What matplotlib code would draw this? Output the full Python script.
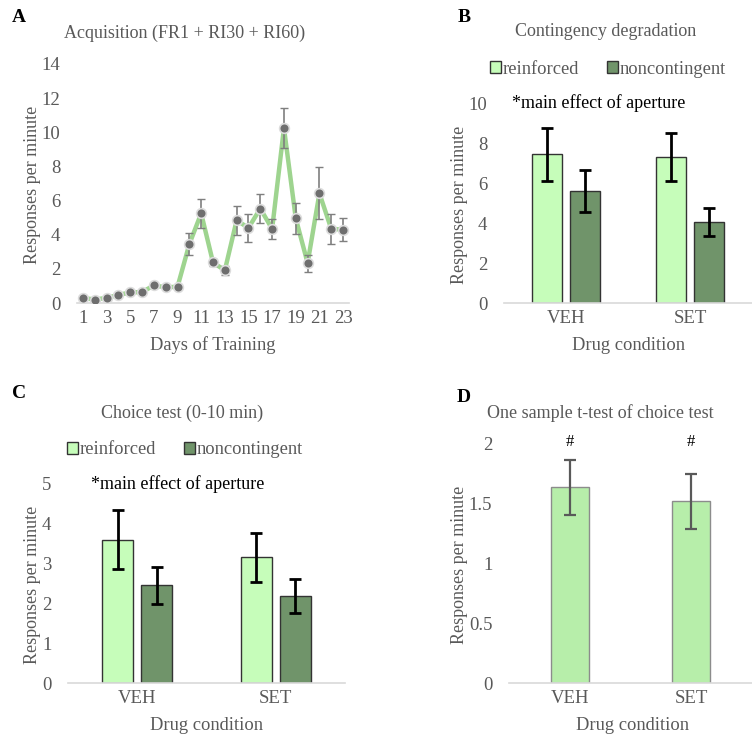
"""Four-panel figure: acquisition, contingency degradation, choice test, t-test."""

import matplotlib
matplotlib.use("Agg")
import matplotlib.pyplot as plt
import numpy as np

W, H = 752, 737
GRAY = "#595959"
plt.rcParams["font.family"] = ["Liberation Serif", "DejaVu Serif"]

# Panel A: acquisition
days = list(range(1, 24))
acq_mean = [0.3, 0.2, 0.3, 0.47, 0.62, 0.64, 1.03, 0.92, 0.95, 3.45, 5.25, 2.38,
            1.91, 4.84, 4.4, 5.53, 4.34, 10.25, 4.95, 2.34, 6.42, 4.34, 4.3]
acq_sem = [0.05, 0.05, 0.05, 0.06, 0.06, 0.06, 0.1, 0.08, 0.08, 0.65, 0.86, 0.2,
           0.25, 0.86, 0.8, 0.83, 0.6, 1.17, 0.9, 0.5, 1.52, 0.9, 0.69]

# Panels B and C: grouped bars
conditions = ["VEH", "SET"]
groups = ["reinforced", "noncontingent"]
degr_mean = [[7.44, 7.31], [5.58, 4.05]]
degr_sem = [[1.32, 1.2], [1.05, 0.72]]
choice_mean = [[3.6, 3.16], [2.45, 2.18]]
choice_sem = [[0.74, 0.62], [0.47, 0.43]]

# Panel D: one sample t-test
ttest_mean = [1.637, 1.52]
ttest_sem = [0.233, 0.233]

GROUP_COLORS = ["#c6fdba", "#70946a"]
TICK_FS = 13.5
TITLE_FS = 13
YLAB_FS = 13
XLAB_FS = 13.3
NOTE_FS = 13
LEG_FS = 13.3


def fx(px):
    return px / W


def fy(py):
    return 1 - py / H


def make_axes(x0, x1, y_bottom, y_top):
    """Axes from pixel box (y measured from top)."""
    ax = fig.add_axes([fx(x0), fy(y_bottom), (x1 - x0) / W, (y_bottom - y_top) / H])
    for side in ["left", "right", "top"]:
        ax.spines[side].set_visible(False)
    ax.spines["bottom"].set_color("#d9d9d9")
    ax.spines["bottom"].set_linewidth(1.2)
    ax.tick_params(length=0, labelsize=TICK_FS, labelcolor=GRAY)
    ax.tick_params(axis="y", pad=12)
    ax.tick_params(axis="x", pad=5)
    return ax


def label(x, y, s, **kw):
    fig.text(fx(x), fy(y), s, ha="center", va="center", **kw)


def grouped_bars(ax, means, sems, width, offset):
    x = np.arange(len(conditions))
    for i, g in enumerate(groups):
        pos = x + (i - 0.5) * 2 * offset
        ax.bar(pos, means[i], width, color=GROUP_COLORS[i], edgecolor="#333333",
               linewidth=1.0, label=g, zorder=2)
        ax.errorbar(pos, means[i], yerr=sems[i], fmt="none", ecolor="black",
                    elinewidth=2, capsize=4, capthick=2, zorder=3)
    ax.set_xticks(x)
    ax.set_xticklabels(conditions)
    ax.set_xlim(-0.5, 1.5)


def add_legend(ax, cx, cy):
    ax.legend(loc="center", bbox_to_anchor=(fx(cx), fy(cy)), bbox_transform=fig.transFigure,
              ncol=2, frameon=False, fontsize=LEG_FS, labelcolor=GRAY, handlelength=0.6,
              handleheight=0.6, handletextpad=0.1, columnspacing=1.5)


fig = plt.figure(figsize=(W / 100, H / 100), dpi=100)

# ---- A ----
axA = make_axes(77, 349, 303, 64)
axA.errorbar(days, acq_mean, yerr=acq_sem, fmt="none", ecolor="#7f7f7f",
             elinewidth=1.2, capsize=3, zorder=4)
axA.plot(days, acq_mean, color="#9ed48f", lw=3.2, zorder=3)
axA.plot(days, acq_mean, "o", ms=7, color="#6e6e6e", mec="#dcdcdc", mew=1.2, zorder=5)
axA.set_xlim(0.5, 23.5)
axA.set_ylim(0, 14)
axA.set_yticks(range(0, 15, 2))
axA.set_xticks(range(1, 24, 2))
label(19, 17, "A", fontsize=14, fontweight="bold")
label(185, 33, "Acquisition (FR1 + RI30 + RI60)", fontsize=TITLE_FS, color=GRAY)
label(33, 185, "Responses per minute", fontsize=YLAB_FS, color=GRAY, rotation=90)
label(213, 345, "Days of Training", fontsize=XLAB_FS, color=GRAY)

# ---- B ----
axB = make_axes(504, 752, 303, 103)
grouped_bars(axB, degr_mean, degr_sem, 0.24, 0.155)
axB.set_ylim(0, 10)
axB.set_yticks(range(0, 11, 2))
add_legend(axB, 608, 69)
fig.text(fx(512), fy(103), "*main effect of aperture", ha="left", va="center", fontsize=NOTE_FS)
label(464, 17, "B", fontsize=14, fontweight="bold")
label(606, 32, "Contingency degradation", fontsize=TITLE_FS, color=GRAY)
label(459, 205, "Responses per minute", fontsize=YLAB_FS, color=GRAY, rotation=90)
label(628, 345, "Drug condition", fontsize=XLAB_FS, color=GRAY)

# ---- C ----
axC = make_axes(68, 345, 683, 484)
grouped_bars(axC, choice_mean, choice_sem, 0.225, 0.14)
axC.set_ylim(0, 5)
axC.set_yticks(range(0, 6))
add_legend(axC, 185, 450)
fig.text(fx(91), fy(484), "*main effect of aperture", ha="left", va="center", fontsize=NOTE_FS)
label(19, 393, "C", fontsize=14, fontweight="bold")
label(182, 413, "Choice test (0-10 min)", fontsize=TITLE_FS, color=GRAY)
label(33, 585, "Responses per minute", fontsize=YLAB_FS, color=GRAY, rotation=90)
label(206, 725, "Drug condition", fontsize=XLAB_FS, color=GRAY)

# ---- D ----
axD = make_axes(509, 752, 683, 444)
xd = np.arange(len(conditions))
axD.bar(xd, ttest_mean, 0.31, color="#b7eeaa", edgecolor="#8c8c8c", linewidth=1.0, zorder=2)
axD.errorbar(xd, ttest_mean, yerr=ttest_sem, fmt="none", ecolor="#595959",
             elinewidth=1.6, capsize=4, capthick=1.6, zorder=3)
for xi in xd:
    axD.text(xi, 2.02, "#", ha="center", va="center", fontsize=12)
axD.set_xticks(xd)
axD.set_xticklabels(conditions)
axD.set_xlim(-0.5, 1.5)
axD.set_ylim(0, 2)
axD.set_yticks([0, 0.5, 1, 1.5, 2])
axD.set_yticklabels(["0", "0.5", "1", "1.5", "2"])
label(464, 398, "D", fontsize=14, fontweight="bold")
label(600, 413, "One sample t-test of choice test", fontsize=TITLE_FS, color=GRAY)
label(459, 565, "Responses per minute", fontsize=YLAB_FS, color=GRAY, rotation=90)
label(632, 725, "Drug condition", fontsize=XLAB_FS, color=GRAY)

fig.savefig("out.png", dpi=100)
